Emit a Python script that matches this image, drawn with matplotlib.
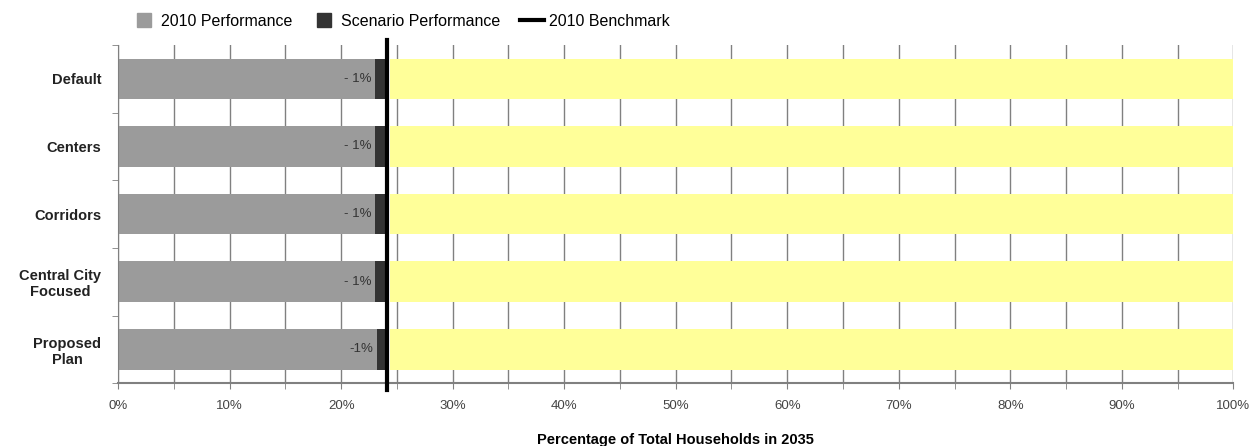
import matplotlib

matplotlib.use("Agg")
import matplotlib.pyplot as plt
import numpy as np
from matplotlib.lines import Line2D

CATEGORIES = ["Default", "Centers", "Corridors", "Central City\nFocused", "Proposed\nPlan"]
PERF_2010 = [23.0, 23.0, 23.0, 23.0, 23.2]
SCENARIO = [1.1, 1.1, 1.1, 1.1, 0.9]
GAP = [0.3, 0.3, 0.3, 0.3, 0.3]
REMAINING = [75.6, 75.6, 75.6, 75.6, 75.6]
LABELS = ["- 1%", "- 1%", "- 1%", "- 1%", "-1%"]
BENCHMARK = 24.1

GRAY = "#9b9b9b"
DARK = "#333333"
YELLOW = "#ffff99"

plt.rcParams["font.family"] = ["Liberation Sans Narrow", "Liberation Sans", "DejaVu Sans"]

fig = plt.figure(figsize=(12.56, 4.46), dpi=100)
ax = fig.add_axes([0.094, 0.141, 0.888, 0.758])

y = np.arange(len(CATEGORIES))
perf = np.array(PERF_2010)
scen = np.array(SCENARIO)
gap = np.array(GAP)
rem = np.array(REMAINING)

ax.barh(y, perf, height=0.6, color=GRAY, linewidth=0, zorder=2)
ax.barh(y, scen, left=perf, height=0.6, color=DARK, linewidth=0, zorder=2)
ax.barh(y, rem, left=perf + scen + gap, height=0.6, color=YELLOW, linewidth=0, zorder=2)

for yi, p, lab in zip(y, perf, LABELS):
    ax.text(p - 0.3, yi, lab, ha="right", va="center", fontsize=9.5, color="#333333", zorder=3)

ax.axvline(BENCHMARK, ymin=-0.02, ymax=1.015, color="black", linewidth=3, zorder=4, clip_on=False)

ax.set_xlim(0, 100)
ax.set_ylim(len(CATEGORIES) - 0.5, -0.5)
ax.set_xticks(np.arange(0, 101, 10))
ax.set_xticklabels([f"{v}%" for v in range(0, 101, 10)], fontsize=9.5, color="#444444")
ax.set_xticks(np.arange(0, 101, 5), minor=True)
ax.grid(axis="x", which="both", color="#808080", linewidth=1, zorder=0)
ax.tick_params(axis="x", which="both", length=4, color="#808080", pad=8)

ax.set_yticks(y)
ax.set_yticklabels(CATEGORIES, fontsize=10.5, fontweight="bold", color="#222222", multialignment="center")
ax.set_yticks(np.arange(-0.5, len(CATEGORIES), 1), minor=True)
ax.tick_params(axis="y", which="major", length=0, pad=12)
ax.tick_params(axis="y", which="minor", length=4, color="#808080")

for s in ["top", "right"]:
    ax.spines[s].set_visible(False)
ax.spines["left"].set_color("#808080")
ax.spines["bottom"].set_color("#808080")
ax.spines["bottom"].set_linewidth(1.5)

ax.set_xlabel("Percentage of Total Households in 2035", fontsize=10.5, fontweight="bold", labelpad=15)

handles = [
    Line2D([], [], marker="s", linestyle="none", markersize=10, color=GRAY, label="2010 Performance"),
    Line2D([], [], marker="s", linestyle="none", markersize=10, color=DARK, label="Scenario Performance"),
    Line2D([], [], color="black", linewidth=3, label="2010 Benchmark"),
]
fig.legend(handles=handles, loc="center left", bbox_to_anchor=(0.0985, 1 - 21 / 446), ncol=3,
           frameon=False, fontsize=11.5, handlelength=1.5, borderpad=0,
           columnspacing=1.2, handletextpad=0.35)

fig.savefig("out.png", dpi=100, facecolor="white")
